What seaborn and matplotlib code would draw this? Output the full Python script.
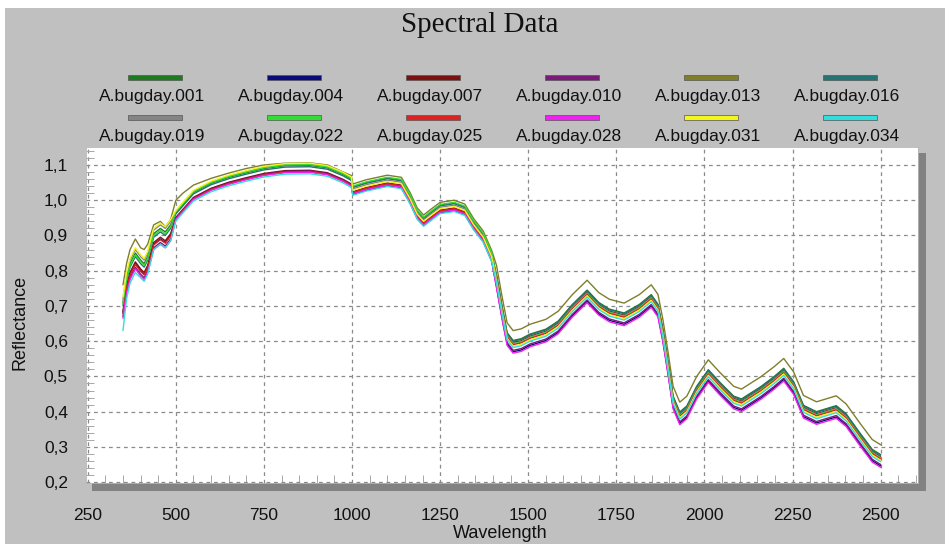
import numpy as np
import pandas as pd
import matplotlib
matplotlib.use("Agg")
import matplotlib.pyplot as plt
import seaborn as sns
from matplotlib.patches import Rectangle
from matplotlib.ticker import MultipleLocator, FixedLocator, FixedFormatter

# ---------------- data ----------------
wavelength = [350, 360, 370, 385, 400, 410, 420, 437, 456, 470, 485,
              500, 520, 550, 600, 650, 700, 750, 810, 880, 930, 975, 998,
              1002, 1040, 1100, 1140, 1165, 1185, 1203, 1222, 1250, 1290, 1320, 1345, 1372, 1396,
              1410, 1425, 1440, 1457, 1480, 1505, 1550, 1585, 1625, 1667,
              1700, 1730, 1772, 1815, 1849, 1868, 1882, 1897, 1911, 1930,
              1950, 1978, 2011, 2045, 2083, 2105, 2160, 2197, 2225, 2253,
              2281, 2318, 2374, 2402, 2440, 2476, 2500]

s001 = [0.710, 0.780, 0.820, 0.850, 0.830, 0.820, 0.840, 0.905, 0.920, 0.910, 0.930,
        0.965, 0.988, 1.022, 1.048, 1.065, 1.078, 1.090, 1.098, 1.099, 1.092, 1.073, 1.060,
        1.038, 1.050, 1.063, 1.057, 1.013, 0.970, 0.950, 0.965, 0.986, 0.992, 0.981, 0.940, 0.905, 0.850,
        0.787, 0.702, 0.624, 0.602, 0.607, 0.620, 0.634, 0.657, 0.704, 0.745,
        0.710, 0.691, 0.680, 0.704, 0.732, 0.705, 0.634, 0.539, 0.444, 0.399,
        0.416, 0.472, 0.519, 0.482, 0.444, 0.436, 0.471, 0.499, 0.523, 0.485,
        0.418, 0.400, 0.417, 0.394, 0.341, 0.293, 0.278]
s004 = [0.680, 0.750, 0.790, 0.820, 0.800, 0.790, 0.810, 0.875, 0.890, 0.880, 0.900,
        0.947, 0.970, 1.004, 1.030, 1.047, 1.060, 1.072, 1.080, 1.081, 1.074, 1.055, 1.042,
        1.016, 1.028, 1.041, 1.035, 0.991, 0.948, 0.928, 0.943, 0.964, 0.970, 0.959, 0.918, 0.883, 0.828,
        0.755, 0.670, 0.592, 0.570, 0.575, 0.588, 0.602, 0.625, 0.672, 0.713,
        0.678, 0.659, 0.648, 0.672, 0.700, 0.673, 0.602, 0.507, 0.412, 0.367,
        0.384, 0.440, 0.487, 0.450, 0.412, 0.404, 0.439, 0.467, 0.491, 0.453,
        0.386, 0.368, 0.385, 0.362, 0.309, 0.261, 0.246]
s007 = [0.685, 0.755, 0.795, 0.825, 0.805, 0.795, 0.815, 0.880, 0.895, 0.885, 0.905,
        0.951, 0.974, 1.008, 1.034, 1.051, 1.064, 1.076, 1.084, 1.085, 1.078, 1.059, 1.046,
        1.024, 1.036, 1.049, 1.043, 0.999, 0.956, 0.936, 0.951, 0.972, 0.978, 0.967, 0.926, 0.891, 0.836,
        0.781, 0.696, 0.618, 0.596, 0.601, 0.614, 0.628, 0.651, 0.698, 0.739,
        0.704, 0.685, 0.674, 0.698, 0.726, 0.699, 0.628, 0.533, 0.438, 0.393,
        0.410, 0.466, 0.513, 0.476, 0.438, 0.430, 0.465, 0.493, 0.517, 0.479,
        0.412, 0.394, 0.411, 0.388, 0.335, 0.287, 0.272]
s010 = [0.670, 0.740, 0.780, 0.810, 0.790, 0.780, 0.800, 0.865, 0.880, 0.870, 0.890,
        0.949, 0.972, 1.006, 1.032, 1.049, 1.062, 1.074, 1.082, 1.083, 1.076, 1.057, 1.044,
        1.020, 1.032, 1.045, 1.039, 0.995, 0.952, 0.932, 0.947, 0.968, 0.974, 0.963, 0.922, 0.887, 0.832,
        0.759, 0.674, 0.596, 0.574, 0.579, 0.592, 0.606, 0.629, 0.676, 0.717,
        0.682, 0.663, 0.652, 0.676, 0.704, 0.677, 0.606, 0.511, 0.416, 0.371,
        0.388, 0.444, 0.491, 0.454, 0.416, 0.408, 0.443, 0.471, 0.495, 0.457,
        0.390, 0.372, 0.389, 0.366, 0.313, 0.265, 0.250]
s013 = [0.760, 0.820, 0.860, 0.890, 0.865, 0.860, 0.875, 0.930, 0.940, 0.925, 0.945,
        1.000, 1.020, 1.043, 1.062, 1.077, 1.090, 1.100, 1.105, 1.106, 1.100, 1.080, 1.070,
        1.046, 1.058, 1.071, 1.065, 1.021, 0.978, 0.958, 0.973, 0.994, 1.000, 0.989, 0.948, 0.913, 0.858,
        0.815, 0.730, 0.652, 0.630, 0.635, 0.648, 0.662, 0.685, 0.732, 0.773,
        0.738, 0.719, 0.708, 0.732, 0.760, 0.733, 0.662, 0.567, 0.472, 0.427,
        0.444, 0.500, 0.547, 0.510, 0.472, 0.464, 0.499, 0.527, 0.551, 0.513,
        0.446, 0.428, 0.445, 0.422, 0.369, 0.321, 0.306]
s016 = [0.700, 0.770, 0.810, 0.840, 0.820, 0.810, 0.830, 0.895, 0.910, 0.900, 0.920,
        0.961, 0.984, 1.018, 1.044, 1.061, 1.074, 1.086, 1.094, 1.095, 1.088, 1.069, 1.056,
        1.036, 1.048, 1.061, 1.055, 1.011, 0.968, 0.948, 0.963, 0.984, 0.990, 0.979, 0.938, 0.903, 0.848,
        0.785, 0.700, 0.622, 0.600, 0.605, 0.618, 0.632, 0.655, 0.702, 0.743,
        0.708, 0.689, 0.678, 0.702, 0.730, 0.703, 0.632, 0.537, 0.442, 0.397,
        0.414, 0.470, 0.517, 0.480, 0.442, 0.434, 0.469, 0.497, 0.521, 0.483,
        0.416, 0.398, 0.415, 0.392, 0.339, 0.291, 0.276]
s019 = [0.720, 0.790, 0.830, 0.860, 0.840, 0.830, 0.850, 0.915, 0.930, 0.920, 0.940,
        0.969, 0.992, 1.026, 1.052, 1.069, 1.082, 1.094, 1.102, 1.103, 1.096, 1.077, 1.064,
        1.032, 1.044, 1.057, 1.051, 1.007, 0.964, 0.944, 0.959, 0.980, 0.986, 0.975, 0.934, 0.899, 0.844,
        0.779, 0.694, 0.616, 0.594, 0.599, 0.612, 0.626, 0.649, 0.696, 0.737,
        0.702, 0.683, 0.672, 0.696, 0.724, 0.697, 0.626, 0.531, 0.436, 0.391,
        0.408, 0.464, 0.511, 0.474, 0.436, 0.428, 0.463, 0.491, 0.515, 0.477,
        0.410, 0.392, 0.409, 0.386, 0.333, 0.285, 0.270]
s022 = [0.705, 0.775, 0.815, 0.845, 0.825, 0.815, 0.835, 0.900, 0.915, 0.905, 0.925,
        0.967, 0.990, 1.024, 1.050, 1.067, 1.080, 1.092, 1.100, 1.101, 1.094, 1.075, 1.062,
        1.040, 1.052, 1.065, 1.059, 1.015, 0.972, 0.952, 0.967, 0.988, 0.994, 0.983, 0.942, 0.907, 0.852,
        0.777, 0.692, 0.614, 0.592, 0.597, 0.610, 0.624, 0.647, 0.694, 0.735,
        0.700, 0.681, 0.670, 0.694, 0.722, 0.695, 0.624, 0.529, 0.434, 0.389,
        0.406, 0.462, 0.509, 0.472, 0.434, 0.426, 0.461, 0.489, 0.513, 0.475,
        0.408, 0.390, 0.407, 0.384, 0.331, 0.283, 0.268]
s025 = [0.678, 0.748, 0.788, 0.818, 0.798, 0.788, 0.808, 0.873, 0.888, 0.878, 0.898,
        0.947, 0.970, 1.004, 1.030, 1.047, 1.060, 1.072, 1.080, 1.081, 1.074, 1.055, 1.042,
        1.022, 1.034, 1.047, 1.041, 0.997, 0.954, 0.934, 0.949, 0.970, 0.976, 0.965, 0.924, 0.889, 0.834,
        0.775, 0.690, 0.612, 0.590, 0.595, 0.608, 0.622, 0.645, 0.692, 0.733,
        0.698, 0.679, 0.668, 0.692, 0.720, 0.693, 0.622, 0.527, 0.432, 0.387,
        0.404, 0.460, 0.507, 0.470, 0.432, 0.424, 0.459, 0.487, 0.511, 0.473,
        0.406, 0.388, 0.405, 0.382, 0.329, 0.281, 0.266]
s028 = [0.665, 0.735, 0.775, 0.805, 0.785, 0.775, 0.795, 0.860, 0.875, 0.865, 0.885,
        0.945, 0.968, 1.002, 1.028, 1.045, 1.058, 1.070, 1.078, 1.079, 1.072, 1.053, 1.040,
        1.018, 1.030, 1.043, 1.037, 0.993, 0.950, 0.930, 0.945, 0.966, 0.972, 0.961, 0.920, 0.885, 0.830,
        0.751, 0.666, 0.588, 0.566, 0.571, 0.584, 0.598, 0.621, 0.668, 0.709,
        0.674, 0.655, 0.644, 0.668, 0.696, 0.669, 0.598, 0.503, 0.408, 0.363,
        0.380, 0.436, 0.483, 0.446, 0.408, 0.400, 0.435, 0.463, 0.487, 0.449,
        0.382, 0.364, 0.381, 0.358, 0.305, 0.257, 0.242]
s031 = [0.725, 0.795, 0.835, 0.865, 0.845, 0.835, 0.855, 0.920, 0.935, 0.925, 0.945,
        0.971, 0.994, 1.028, 1.054, 1.071, 1.084, 1.096, 1.104, 1.105, 1.098, 1.079, 1.066,
        1.028, 1.040, 1.053, 1.047, 1.003, 0.960, 0.940, 0.955, 0.976, 0.982, 0.971, 0.930, 0.895, 0.840,
        0.771, 0.686, 0.608, 0.586, 0.591, 0.604, 0.618, 0.641, 0.688, 0.729,
        0.694, 0.675, 0.664, 0.688, 0.716, 0.689, 0.618, 0.523, 0.428, 0.383,
        0.400, 0.456, 0.503, 0.466, 0.428, 0.420, 0.455, 0.483, 0.507, 0.469,
        0.402, 0.384, 0.401, 0.378, 0.325, 0.277, 0.262]
s034 = [0.630, 0.720, 0.765, 0.795, 0.780, 0.770, 0.790, 0.860, 0.875, 0.865, 0.885,
        0.941, 0.964, 0.998, 1.024, 1.041, 1.054, 1.066, 1.074, 1.075, 1.068, 1.049, 1.036,
        1.014, 1.026, 1.039, 1.033, 0.989, 0.946, 0.926, 0.941, 0.962, 0.968, 0.957, 0.916, 0.881, 0.826,
        0.767, 0.682, 0.604, 0.582, 0.587, 0.600, 0.614, 0.637, 0.684, 0.725,
        0.690, 0.671, 0.660, 0.684, 0.712, 0.685, 0.614, 0.519, 0.424, 0.379,
        0.396, 0.452, 0.499, 0.462, 0.424, 0.416, 0.451, 0.479, 0.503, 0.465,
        0.398, 0.380, 0.397, 0.374, 0.321, 0.273, 0.258]

series_names = ["A.bugday.001", "A.bugday.004", "A.bugday.007", "A.bugday.010",
                "A.bugday.013", "A.bugday.016", "A.bugday.019", "A.bugday.022",
                "A.bugday.025", "A.bugday.028", "A.bugday.031", "A.bugday.034"]
series_values = [s001, s004, s007, s010, s013, s016, s019, s022, s025, s028, s031, s034]
series_colors = ["#1f7a1f", "#0a0a78", "#7a1010", "#7a1a7a", "#7f7f2a", "#267373",
                 "#858585", "#33dd33", "#dd2222", "#ee22ee", "#f5f522", "#33dddd"]

x_ticks = [250, 500, 750, 1000, 1250, 1500, 1750, 2000, 2250, 2500]
y_ticks = [0.2, 0.3, 0.4, 0.5, 0.6, 0.7, 0.8, 0.9, 1.0, 1.1]
y_tick_labels = ["0,2", "0,3", "0,4", "0,5", "0,6", "0,7", "0,8", "0,9", "1,0", "1,1"]

# ---------------- figure ----------------
sns.set_style("white")
plt.rcParams["font.family"] = ["Liberation Sans", "DejaVu Sans"]

W, H = 950, 544
fig = plt.figure(figsize=(W / 100, H / 100), dpi=100)
fig.patch.set_facecolor("white")


def fx(px):
    return px / W


def fy(py):
    return 1 - py / H


# gray panel background
fig.add_artist(Rectangle((fx(5), 0), fx(940), fy(8), transform=fig.transFigure,
                         facecolor="#c0c0c0", edgecolor="none", zorder=-3))

# plot area
L, R, T, B = 86, 918, 147, 482.5
ax = fig.add_axes([fx(L), fy(B), fx(R - L), (B - T) / H])
ax.set_facecolor("white")

# drop shadow
sh = 8
fig.add_artist(Rectangle((fx(R), fy(B + sh)), fx(sh), (B + sh - (T + 6)) / H,
                         transform=fig.transFigure, facecolor="#828282",
                         edgecolor="none", zorder=-1))
fig.add_artist(Rectangle((fx(L + 6), fy(B + sh)), fx(R + sh - L - 6), sh / H,
                         transform=fig.transFigure, facecolor="#828282",
                         edgecolor="none", zorder=-1))

rows = []
for name, vals in zip(series_names, series_values):
    rows.append(pd.DataFrame({"Wavelength": wavelength, "Reflectance": vals, "Series": name}))
df = pd.concat(rows, ignore_index=True)
palette = dict(zip(series_names, series_colors))

sns.lineplot(data=df, x="Wavelength", y="Reflectance", hue="Series",
             hue_order=series_names, palette=palette, estimator=None,
             sort=False, legend=False, linewidth=1.0, ax=ax)

ax.set_xlim(245, 2606)
ax.set_ylim(0.199, 1.151)

ax.xaxis.set_major_locator(FixedLocator(x_ticks))
ax.yaxis.set_major_locator(FixedLocator(y_ticks))
ax.yaxis.set_major_formatter(FixedFormatter(y_tick_labels))
ax.xaxis.set_minor_locator(MultipleLocator(50))
ax.yaxis.set_minor_locator(MultipleLocator(0.02))

ax.grid(True, which="major", color="#8a8a8a", linestyle=(0, (3, 3)), linewidth=0.9)
ax.tick_params(axis="x", which="major", length=11, width=0.8, color="#909090",
               pad=7, labelsize=12.5, labelcolor="#111111")
ax.tick_params(axis="y", which="major", length=6, width=0.8, color="#909090",
               pad=7, labelsize=12.5, labelcolor="#111111")
ax.tick_params(axis="both", which="minor", direction="in", length=6, width=0.7,
               color="#a8a8a8")
ax.tick_params(axis="x", which="minor", top=False, bottom=True)
ax.tick_params(axis="y", which="minor", right=False, left=True)

for s in ax.spines.values():
    s.set_color("#b5b5b5")
    s.set_linewidth(0.6)

ax.set_xlabel("Wavelength", fontsize=13, color="#111111")
ax.set_ylabel("Reflectance", fontsize=13, color="#111111")
ax.xaxis.set_label_coords((500 - L) / (R - L), -(534 - B) / (B - T))
ax.yaxis.set_label_coords(-(L - 20) / (R - L), (B - 322) / (B - T))
ax.xaxis.label.set_verticalalignment("center")
ax.yaxis.label.set_verticalalignment("center")

# title
fig.text(fx(480), fy(25), "Spectral Data", ha="center", va="center",
         fontsize=21, family=["Liberation Serif", "DejaVu Serif"], color="#111111")

# legend (handle above label, 6 columns x 2 rows)
for i, (name, col) in enumerate(zip(series_names, series_colors)):
    c, r = i % 6, i // 6
    hx = 155 + c * 139
    hy = 77 + r * 40
    fig.add_artist(Rectangle((fx(hx - 27), fy(hy + 2.5)), fx(54), 5 / H,
                             transform=fig.transFigure, facecolor=col,
                             edgecolor="#555555", linewidth=0.5, zorder=2))
    fig.text(fx(152 + c * 139), fy(97 + r * 39), name, ha="center", va="center",
             fontsize=12.5, color="#111111")

fig.savefig("out.png", dpi=100, facecolor=fig.get_facecolor())
